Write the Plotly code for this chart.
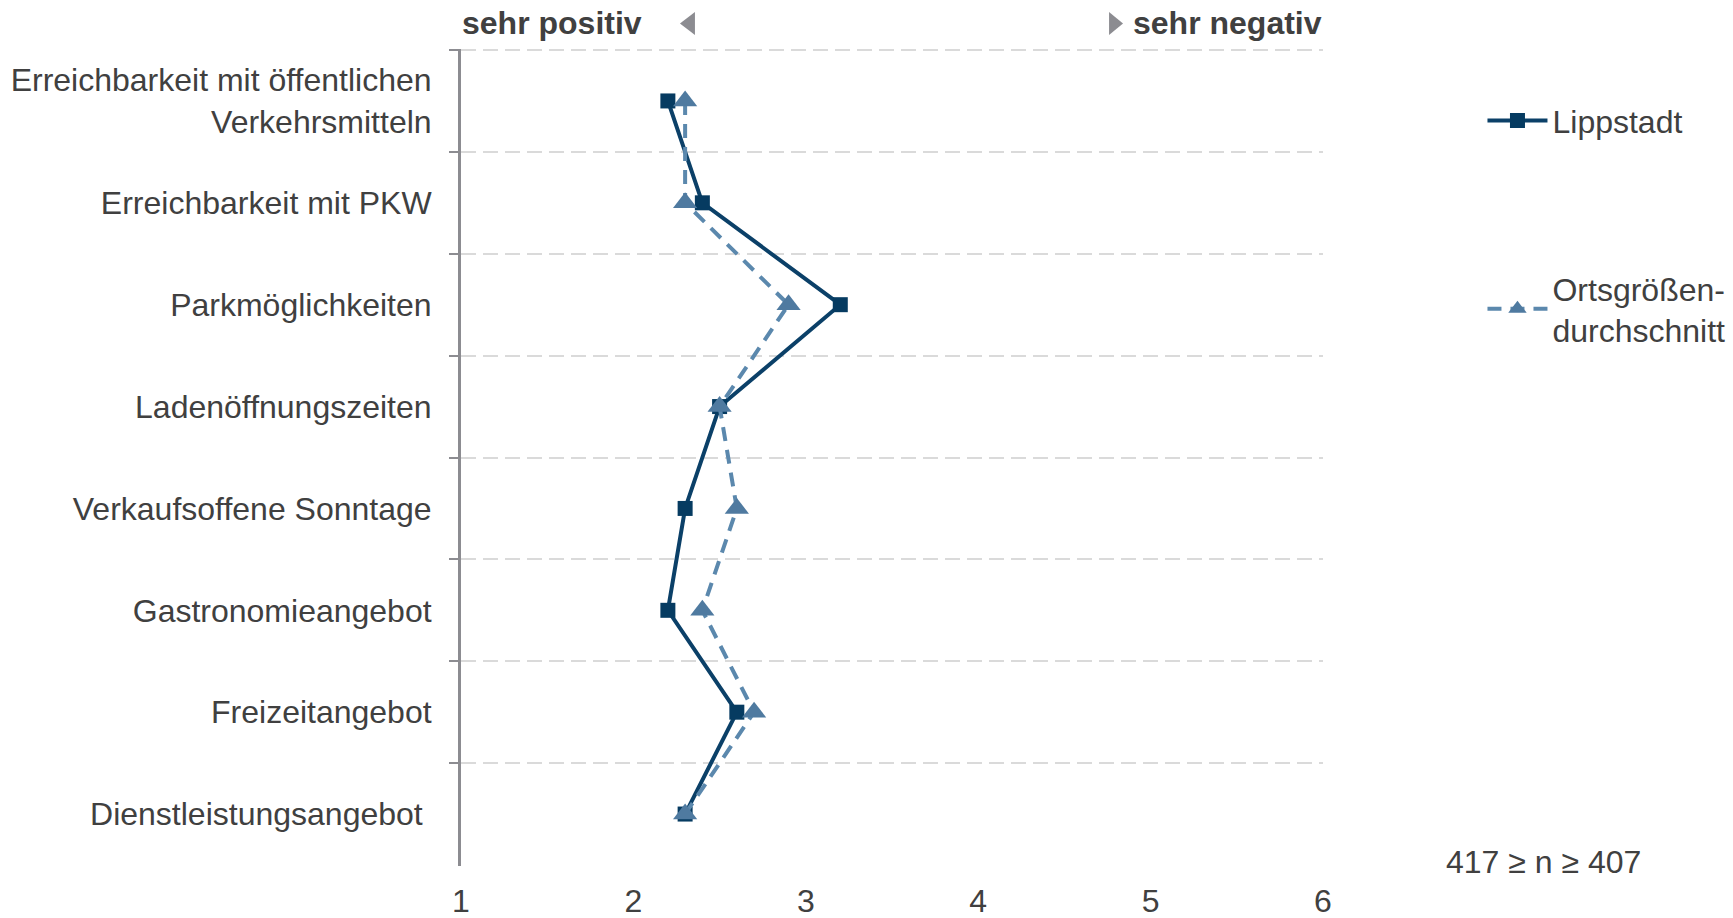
import plotly.graph_objects as go

categories = [
    "Erreichbarkeit mit öffentlichen<br>Verkehrsmitteln",
    "Erreichbarkeit mit PKW",
    "Parkmöglichkeiten",
    "Ladenöffnungszeiten",
    "Verkaufsoffene Sonntage",
    "Gastronomieangebot",
    "Freizeitangebot",
    "Dienstleistungsangebot\u00a0",
]
lippstadt = [2.2, 2.4, 3.2, 2.5, 2.3, 2.2, 2.6, 2.3]
ortsgroesse = [2.3, 2.3, 2.9, 2.5, 2.6, 2.4, 2.7, 2.3]
x_ticks = [1, 2, 3, 4, 5, 6]

FONT = "Liberation Sans, Arial, sans-serif"
TXT = "#404040"
ARROW = "#8c8c91"
FS = 32

fig = go.Figure()
fig.add_trace(go.Scatter(
    x=lippstadt, y=categories, name="Lippstadt",
    mode="lines+markers", legendgroup="a",
    line=dict(color="#0b4068", width=4),
    marker=dict(symbol="square", size=15, color="#063b61"),
))
fig.add_trace(go.Scatter(
    x=ortsgroesse, y=categories, name="Ortsgrößen-<br>durchschnitt",
    mode="lines+markers", legendgroup="b",
    line=dict(color="#5b88ad", width=4, dash="14px,9px"),
    marker=dict(symbol="triangle-up", size=21, color="#4f7aa0"),
))

fig.update_layout(
    width=1733, height=918,
    margin=dict(l=461, r=410, t=49, b=52, autoexpand=False),
    paper_bgcolor="white", plot_bgcolor="white",
    font=dict(family=FONT, size=FS, color=TXT),
    showlegend=True,
    legend=dict(x=1.185, y=0.946, xanchor="left", yanchor="top",
                font=dict(size=FS, color=TXT), tracegroupgap=123,
                traceorder="grouped", itemwidth=60, bgcolor="rgba(0,0,0,0)"),
    xaxis=dict(range=[1, 6], tickvals=x_ticks, ticktext=[str(v) for v in x_ticks],
               showgrid=False, zeroline=False, showline=False, ticks="",
               automargin=False, ticklabelstandoff=13,
               tickfont=dict(size=FS, color=TXT)),
    yaxis=dict(type="category", categoryorder="array", categoryarray=categories,
               range=[7.51, -0.51], tickson="boundaries", showgrid=True,
               gridcolor="#dadada", gridwidth=2, griddash="15px,7px",
               showline=True, linecolor="#8c8c91", linewidth=3,
               ticks="outside", ticklen=9, tickwidth=2, tickcolor="#8c8c91",
               ticklabelstandoff=20, automargin=False,
               tickfont=dict(size=FS, color=TXT), zeroline=False),
)

# header annotations
hy = 1.032
fig.add_annotation(xref="x", yref="paper", x=1, y=hy, text="<b>sehr positiv</b>",
                   showarrow=False, xanchor="left", yanchor="middle", borderpad=0,
                   font=dict(size=FS, color=TXT))
fig.add_annotation(xref="x", yref="paper", x=6, y=hy, text="<b>sehr negativ</b>",
                   showarrow=False, xanchor="right", yanchor="middle", borderpad=0,
                   font=dict(size=FS, color=TXT))
# direction triangles
fig.add_shape(type="path", xref="x", yref="paper",
              path="M 2.270 1.0312 L 2.357 1.0453 L 2.357 1.0171 Z",
              fillcolor=ARROW, line=dict(width=0))
fig.add_shape(type="path", xref="x", yref="paper",
              path="M 4.840 1.0312 L 4.759 1.0453 L 4.759 1.0171 Z",
              fillcolor=ARROW, line=dict(width=0))
fig.add_annotation(xref="paper", yref="paper", x=1.256, y=0.005, text="417 ≥ n ≥ 407",
                   showarrow=False, xanchor="center", yanchor="middle",
                   font=dict(size=FS, color=TXT))

fig.write_html("out.html", config={"displayModeBar": False},
               post_script="document.body.style.margin='0';")
